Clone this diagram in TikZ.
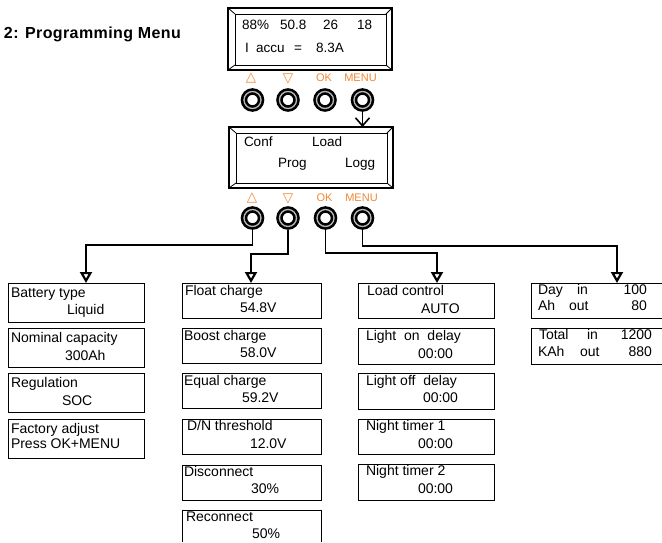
\documentclass[tikz,border=0pt]{standalone}
\usepackage{fontspec}
\setmainfont{Liberation Sans}
\newfontfamily\dejavu{DejaVu Sans}
\newfontfamily\titlefont{Liberation Sans}[LetterSpace=2.5]
\usetikzlibrary{arrows.meta}
\definecolor{keyorange}{RGB}{240,135,50}
\begin{document}
\begin{tikzpicture}[x=1pt,y=-1pt,
 every node/.style={inner sep=0pt,outer sep=0pt},
 tx/.style={anchor=base west,font=\fontsize{14}{16}\selectfont},
 txr/.style={anchor=base east,font=\fontsize{14}{16}\selectfont},
 lcdtx/.style={anchor=base west,font=\fontsize{13.5}{16}\selectfont},
 keylab/.style={text=keyorange,font=\fontsize{11}{12}\selectfont},
 keysym/.style={text=keyorange,font=\dejavu\fontsize{13.5}{14}\selectfont},
 mbox/.style={draw,line width=1pt,anchor=north west,rectangle},
 obox/.style={anchor=north west,rectangle},
 btn/.style={circle,draw=black,line width=2.6pt,double=gray!55,double distance=1.3pt,minimum size=17pt,outer sep=3.2pt},
 lcdo/.style={draw,line width=1.4pt,anchor=north west,rectangle},
 lcdi/.style={draw,line width=1pt,anchor=north west,rectangle},
 bevel/.style={line width=0.8pt},
 conn/.style={line width=1.3pt,-{Triangle[open,length=11pt,width=12pt,line width=2.2pt]}},
 menuarr/.style={line width=1.4pt,-{Straight Barb[length=8pt,width=14pt,line width=1.6pt]}}
]
\useasboundingbox (0,0) rectangle (662,542);

% title
\node[anchor=base west,font=\titlefont\bfseries\fontsize{16}{18}\selectfont] (title) at (4,38.5) {2: Programming Menu};

% LCD 1
\node[lcdo,minimum width=164pt,minimum height=62pt] (lcd1) at (228,8) {};
\node[lcdi,minimum width=151pt,minimum height=51pt] (lcd1i) at (235,14) {};
\foreach \c in {north west,north east,south west,south east} \draw[bevel] (lcd1.\c) -- (lcd1i.\c);
\node[lcdtx] (v88) at (242,29.8) {88\%};
\node[lcdtx] (v508) at (280,29.8) {50.8};
\node[lcdtx] (v26) at (323,29.8) {26};
\node[lcdtx] (v18) at (357,29.8) {18};
\node[lcdtx] (vI) at (245,52.8) {I};
\node[lcdtx] (vaccu) at (256,52.8) {accu};
\node[lcdtx] (veq) at (294,52.8) {=};
\node[lcdtx] (vA) at (316,52.8) {8.3A};

% keys row 1
\node[keysym] (s11) at (251,78) {△};
\node[keysym] (s12) at (288,79) {▽};
\node[keylab] (s13) at (324,78) {OK};
\node[keylab] (s14) at (360.5,78) {MENU};
\node[btn] (k11) at (252.5,100) {};
\node[btn] (k12) at (288,100) {};
\node[btn] (k13) at (325,100) {};
\node[btn] (k14) at (362.5,100) {};

% LCD 2
\node[lcdo,minimum width=164pt,minimum height=61pt] (lcd2) at (229,127) {};
\node[lcdi,minimum width=151pt,minimum height=50pt] (lcd2i) at (236,133) {};
\foreach \c in {north west,north east,south west,south east} \draw[bevel] (lcd2.\c) -- (lcd2i.\c);
\node[lcdtx] (wconf) at (244,146.8) {Conf};
\node[lcdtx] (wload) at (312,146.8) {Load};
\node[lcdtx] (wprog) at (278,167.8) {Prog};
\node[lcdtx] (wlogg) at (345,167.8) {Logg};

\draw[menuarr] (k14.south) -- (k14.south |- lcd2.north);

% keys row 2
\node[keysym] (s21) at (252,198) {△};
\node[keysym] (s22) at (288,199) {▽};
\node[keylab] (s23) at (324.5,198) {OK};
\node[keylab] (s24) at (361.5,198) {MENU};
\node[btn] (k21) at (252.5,218) {};
\node[btn] (k22) at (288,218) {};
\node[btn] (k23) at (325.5,218) {};
\node[btn] (k24) at (362.5,218) {};

% connector helper coordinates
\coordinate (h1) at (0,245);
\coordinate (h2) at (0,254);
\coordinate (h3) at (0,253);
\coordinate (h4) at (0,246);
\coordinate (a1) at (86,283);
\coordinate (a2) at (251,283);
\coordinate (a3) at (437,283);
\coordinate (a4) at (617,283);

\draw[conn] (k21.south) -- (k21.south |- h1) -| (a1);
\draw[conn] (k22.south) -- (k22.south |- h2) -| (a2);
\draw[conn] (k23.south) -- (k23.south |- h3) -| (a3);
\draw[conn] (k24.south) -- (k24.south |- h4) -| (a4);

% column 1
\node[mbox,minimum width=136pt,minimum height=39pt] (c11) at (8,283) {};
\node[mbox,minimum width=136pt,minimum height=39pt] (c12) at (8,328) {};
\node[mbox,minimum width=136pt,minimum height=39pt] (c13) at (8,373) {};
\node[mbox,minimum width=136pt,minimum height=39pt] (c14) at (8,419) {};
\node[tx] (t11a) at (11,297) {Battery type};
\node[tx] (t11b) at (67,314) {Liquid};
\node[tx] (t12a) at (11,342) {Nominal capacity};
\node[tx] (t12b) at (65,360) {300Ah};
\node[tx] (t13a) at (11,387) {Regulation};
\node[tx] (t13b) at (62,405) {SOC};
\node[tx] (t14a) at (11,433) {Factory adjust};
\node[tx] (t14b) at (11,448.5) {Press OK+MENU};

% column 2
\node[mbox,minimum width=139pt,minimum height=35pt] (c21) at (182,283) {};
\node[mbox,minimum width=139pt,minimum height=35pt] (c22) at (182,328) {};
\node[mbox,minimum width=139pt,minimum height=35pt] (c23) at (182,373) {};
\node[mbox,minimum width=139pt,minimum height=35pt] (c24) at (182,419) {};
\node[mbox,minimum width=139pt,minimum height=35pt] (c25) at (182,465) {};
\node[obox,minimum width=139pt,minimum height=32pt] (c26) at (182,510) {};
\draw[line width=1pt] (c26.south west) -- (c26.north west) -- (c26.north east) -- (c26.south east);
\node[tx] (t21a) at (185,295) {Float charge};
\node[tx] (t21b) at (240,312) {54.8V};
\node[tx] (t22a) at (184,340) {Boost charge};
\node[tx] (t22b) at (240,357) {58.0V};
\node[tx] (t23a) at (184,385) {Equal charge};
\node[tx] (t23b) at (242,402) {59.2V};
\node[tx] (t24a) at (187,430.5) {D/N threshold};
\node[tx] (t24b) at (250,448) {12.0V};
\node[tx] (t25a) at (184,476.5) {Disconnect};
\node[tx] (t25b) at (251,493.5) {30\%};
\node[tx] (t26a) at (186,521.5) {Reconnect};
\node[tx] (t26b) at (252,538.6) {50\%};

% column 3
\node[mbox,minimum width=136pt,minimum height=35pt] (c31) at (358,283) {};
\node[mbox,minimum width=136pt,minimum height=36pt] (c32) at (358,328) {};
\node[mbox,minimum width=136pt,minimum height=36pt] (c33) at (358,373) {};
\node[mbox,minimum width=136pt,minimum height=35pt] (c34) at (358,419) {};
\node[mbox,minimum width=136pt,minimum height=36pt] (c35) at (358,464) {};
\node[tx] (t31a) at (367,295) {Load control};
\node[tx] (t31b) at (421,313) {AUTO};
\node[tx] (t32a) at (366,340) {Light\ \ on\ \ delay};
\node[tx] (t32b) at (418,358) {00:00};
\node[tx] (t33a) at (366,385) {Light off\ \ delay};
\node[tx] (t33b) at (423,402) {00:00};
\node[tx] (t34a) at (366,430) {Night timer 1};
\node[tx] (t34b) at (418,448) {00:00};
\node[tx] (t35a) at (366,475) {Night timer 2};
\node[tx] (t35b) at (418,493) {00:00};

% column 4 (open to the right edge)
\node[obox,minimum width=131pt,minimum height=35pt] (c41) at (531,283) {};
\node[obox,minimum width=131pt,minimum height=36pt] (c42) at (531,328) {};
\draw[line width=1pt] (c41.north east) -- (c41.north west) -- (c41.south west) -- (c41.south east);
\draw[line width=1pt] (c42.north east) -- (c42.north west) -- (c42.south west) -- (c42.south east);
\node[tx] (t41a) at (538,294) {Day};
\node[tx] (t41b) at (577,294) {in};
\node[txr] (t41c) at (647,294) {100};
\node[tx] (t41d) at (538,310) {Ah};
\node[tx] (t41e) at (569,310) {out};
\node[txr] (t41f) at (647,310) {80};
\node[tx] (t42a) at (539,339) {Total};
\node[tx] (t42b) at (587,339) {in};
\node[txr] (t42c) at (652,339) {1200};
\node[tx] (t42d) at (538,356.5) {KAh};
\node[tx] (t42e) at (580,356.5) {out};
\node[txr] (t42f) at (652,356.5) {880};
\end{tikzpicture}
\end{document}
